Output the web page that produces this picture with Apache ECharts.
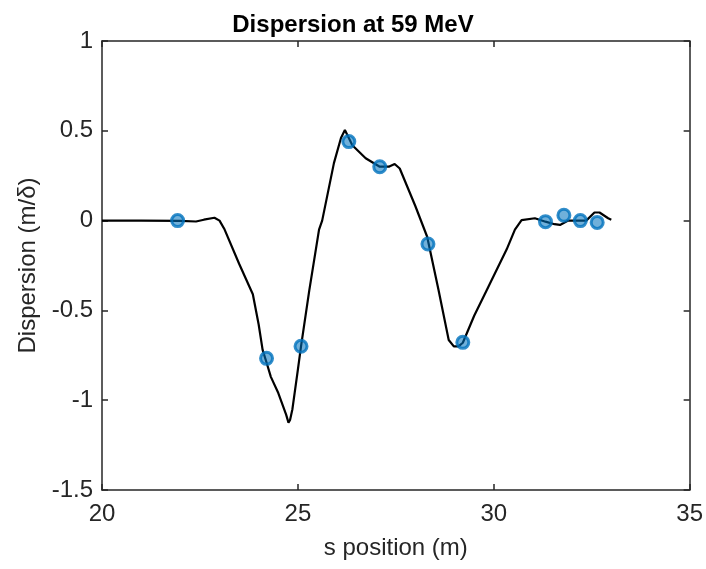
<!DOCTYPE html>
<html>
<head>
<meta charset="utf-8">
<script src="https://cdn.jsdelivr.net/npm/echarts@6/dist/echarts.min.js"></script>
<style>html,body{margin:0;padding:0;background:#fff;}#c{width:706px;height:569px;}</style>
</head>
<body>
<div id="c"></div>
<script>
// Model dispersion curve (s position in m, dispersion in m/delta)
const lineS = [20, 21, 22, 22.4, 22.6, 22.87, 23.0, 23.13, 23.5, 23.85, 24.0, 24.1, 24.2, 24.31, 24.5, 24.7, 24.76, 24.8, 24.86, 25.0, 25.08, 25.29, 25.54, 25.62, 25.92, 26.1, 26.2, 26.3, 26.39, 26.73, 27.09, 27.32, 27.47, 27.6, 28.0, 28.3, 28.59, 28.85, 28.98, 29.1, 29.21, 29.5, 29.86, 30.33, 30.54, 30.71, 31.05, 31.32, 31.55, 31.69, 31.9, 32.2, 32.36, 32.57, 32.7, 32.92, 33.0];
const lineD = [0, 0, -0.002, -0.005, 0.005, 0.016, 0.0, -0.05, -0.24, -0.41, -0.58, -0.72, -0.79, -0.87, -0.96, -1.08, -1.125, -1.11, -1.05, -0.83, -0.70, -0.39, -0.05, 0.0, 0.32, 0.46, 0.505, 0.46, 0.42, 0.347, 0.30, 0.30, 0.315, 0.29, 0.08, -0.09, -0.386, -0.665, -0.70, -0.70, -0.68, -0.53, -0.37, -0.16, -0.05, 0.003, 0.013, -0.006, -0.02, -0.024, 0.0, 0.0, 0.0, 0.045, 0.045, 0.013, 0.005];
// Measured points
const measS = [21.93, 24.2, 25.08, 26.3, 27.09, 28.32, 29.21, 31.32, 31.79, 32.21, 32.64];
const measD = [0.0, -0.767, -0.70, 0.44, 0.30, -0.13, -0.678, -0.006, 0.03, 0.0, -0.01];
// Axis ticks
const xTicks = [20, 25, 30, 35];
const yTicks = [-1.5, -1, -0.5, 0, 0.5, 1];

const txt = '#262626';
const font = 'Liberation Sans, Arial, Helvetica, sans-serif';
const axisLine = { show: true, onZero: false, lineStyle: { color: txt, width: 1.5 } };
const tick = { show: true, inside: true, length: 6, lineStyle: { color: txt, width: 1.5 } };

const chart = echarts.init(document.getElementById('c'), null, { renderer: 'canvas' });
chart.setOption({
  animation: false,
  backgroundColor: '#fff',
  title: {
    text: 'Dispersion at 59 MeV',
    left: 'center',
    top: 8,
    textStyle: { fontFamily: font, fontSize: 24, fontWeight: 'bold', color: '#000' }
  },
  grid: { left: 102, right: 14, top: 41, bottom: 79, containLabel: false },
  xAxis: [{
    type: 'value', min: xTicks[0], max: xTicks[xTicks.length - 1], interval: 5,
    name: 's position (m)', nameLocation: 'middle', nameGap: 46,
    nameTextStyle: { fontFamily: font, fontSize: 24, color: txt },
    axisLine: axisLine, axisTick: tick, splitLine: { show: false },
    axisLabel: { fontFamily: font, fontSize: 24, color: txt, margin: 12 }
  }, {
    type: 'value', position: 'top', min: xTicks[0], max: xTicks[xTicks.length - 1], interval: 5,
    axisLine: axisLine, axisTick: tick, splitLine: { show: false }, axisLabel: { show: false }
  }],
  yAxis: [{
    type: 'value', min: yTicks[0], max: yTicks[yTicks.length - 1], interval: 0.5,
    name: 'Dispersion (m/\u03B4)', nameLocation: 'middle', nameGap: 62,
    nameTextStyle: { fontFamily: font, fontSize: 24, color: txt },
    axisLine: axisLine, axisTick: tick, splitLine: { show: false },
    axisLabel: { fontFamily: font, fontSize: 24, color: txt, margin: 9 }
  }, {
    type: 'value', position: 'right', min: yTicks[0], max: yTicks[yTicks.length - 1], interval: 0.5,
    axisLine: axisLine, axisTick: tick, splitLine: { show: false }, axisLabel: { show: false }
  }],
  series: [{
    type: 'line',
    data: lineS.map((s, i) => [s, lineD[i]]),
    showSymbol: false, symbol: 'none', smooth: false,
    lineStyle: { color: '#000', width: 2.2 },
    z: 2
  }, {
    type: 'scatter',
    data: measS.map((s, i) => [s, measD[i]]),
    symbol: 'circle', symbolSize: 12,
    itemStyle: { color: 'rgba(0,114,189,0.7)', borderColor: '#0072BD', borderWidth: 3 },
    z: 3
  }]
});
</script>
</body>
</html>
